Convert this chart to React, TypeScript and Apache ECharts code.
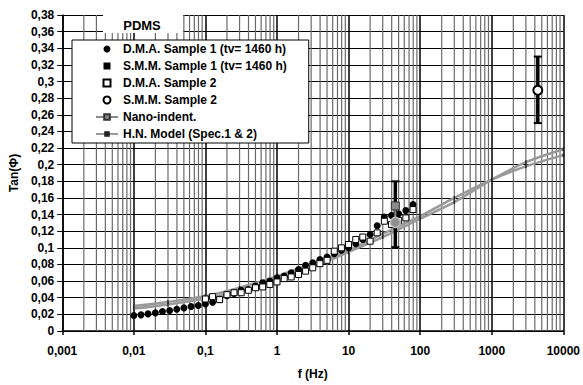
import React, { useEffect, useRef } from 'react';
import * as echarts from 'echarts';

const FONT = 'Arial, "Liberation Sans", Helvetica, sans-serif';

// ---- data ----
const dmaFreq1 = [0.01, 0.0126, 0.0158, 0.02, 0.0251, 0.0316, 0.0398, 0.0501, 0.0631, 0.0794,
  0.1, 0.126, 0.158, 0.2, 0.251, 0.316, 0.398, 0.501, 0.631, 0.794,
  1, 1.26, 1.58, 2, 2.51, 3.16, 3.98, 5.01, 6.31, 7.94,
  10, 12.6, 15.8, 20, 25.1, 31.6, 39.8, 50.1, 63.1, 79.4];
const dmaTan1 = [0.0187, 0.0194, 0.0206, 0.0218, 0.0235, 0.0247, 0.0262, 0.0278, 0.0294, 0.0306,
  0.0325, 0.0345, 0.038, 0.0425, 0.0452, 0.049, 0.05, 0.054, 0.058, 0.06,
  0.064, 0.066, 0.07, 0.074, 0.079, 0.082, 0.086, 0.089, 0.093, 0.097,
  0.1, 0.105, 0.11, 0.116, 0.1265, 0.137, 0.139, 0.141, 0.145, 0.152];

const dmaFreq2 = [0.1, 0.126, 0.158, 0.2, 0.251, 0.316, 0.398, 0.501, 0.631, 0.794,
  1, 1.26, 1.58, 2, 2.51, 3.16, 3.98, 5.01, 6.31, 7.94,
  10, 12.6, 15.8, 20, 25.1, 31.6, 39.8, 50.1, 63.1, 79.4];
const dmaTan2 = [0.0385, 0.0413, 0.0377, 0.0437, 0.046, 0.046, 0.049, 0.052, 0.053, 0.056,
  0.059, 0.063, 0.065, 0.068, 0.072, 0.076, 0.081, 0.085, 0.096, 0.1,
  0.104, 0.11, 0.113, 0.108, 0.118, 0.132, 0.128, 0.133, 0.136, 0.146];

const smm1Freq = [45];
const smm1Tan = [0.13];
const smm1Low = [0.1008];
const smm1High = [0.18];

const smm2Freq = [4400];
const smm2Tan = [0.2896];
const smm2Low = [0.25];
const smm2High = [0.33];

const nanoFreq = [45, 45];
const nanoTan = [0.1504, 0.1306];

const hnFreq = [0.01, 0.03, 0.1, 0.3, 1, 3, 10, 30, 100, 300, 1000, 3000, 10000];
const hnSpec1 = [0.03, 0.035, 0.042, 0.052, 0.066, 0.081, 0.097, 0.117, 0.138, 0.16, 0.182, 0.198, 0.2115];
const hnSpec2 = [0.027, 0.032, 0.039, 0.048, 0.061, 0.076, 0.095, 0.113, 0.135, 0.155, 0.182, 0.203, 0.2185];

const decades = [0.001, 0.01, 0.1, 1, 10, 100, 1000];
const minorMultipliers = [2, 3, 4, 5, 6, 7, 8, 9];

const legendNames = [
  'D.M.A. Sample 1 (tv= 1460 h)',
  'S.M.M. Sample 1 (tv= 1460 h)',
  'D.M.A. Sample 2',
  'S.M.M. Sample 2',
  'Nano-indent.',
  'H.N. Model (Spec.1 & 2)',
];

const X_MIN = 0.001;
const X_MAX = 10000;
const Y_MIN = 0;
const Y_MAX = 0.38;

const SQUARE = 'path://M0,0L10,0L10,10L0,10Z';

const zip = (a: number[], b: number[]) => a.map((v, i) => [v, b[i]]);

function buildOption() {
  const minorTicks: number[][] = [];
  decades.forEach((d) => minorMultipliers.forEach((m) => minorTicks.push([d * m, 0])));

  const errData = [
    ...smm1Freq.map((f, i) => [f, smm1Low[i], smm1High[i]]),
    ...smm2Freq.map((f, i) => [f, smm2Low[i], smm2High[i]]),
  ];

  const labelStyle = { fontFamily: FONT, fontWeight: 'bold' as const, fontSize: 12, color: '#000' };

  return {
    animation: false,
    backgroundColor: '#fff',
    grid: { left: 62, right: 19, top: 15, bottom: 51, containLabel: false },
    legend: {
      data: legendNames,
      orient: 'vertical',
      left: 72,
      top: 40,
      padding: [3, 22, 3, 23],
      itemWidth: 22,
      itemHeight: 7,
      itemGap: 5,
      backgroundColor: '#fff',
      borderColor: '#000',
      borderWidth: 1,
      borderRadius: 0,
      textStyle: { ...labelStyle },
    },
    xAxis: {
      type: 'log',
      logBase: 10,
      min: X_MIN,
      max: X_MAX,
      interval: 1,
      name: 'f (Hz)',
      nameLocation: 'middle',
      nameGap: 37,
      nameTextStyle: { ...labelStyle },
      axisLine: { show: true, lineStyle: { color: '#000', width: 1.5 } },
      axisTick: { show: true, inside: false, length: 4, lineStyle: { color: '#000', width: 1.5 } },
      axisLabel: {
        ...labelStyle,
        margin: 14,
        formatter: (v: number) => String(parseFloat(v.toPrecision(4))).replace('.', ','),
      },
      splitLine: { show: true, lineStyle: { color: '#000', width: 1.5 } },
    },
    yAxis: {
      type: 'value',
      min: Y_MIN,
      max: Y_MAX,
      interval: 0.02,
      name: 'Tan(Φ)',
      nameLocation: 'middle',
      nameGap: 40,
      nameTextStyle: { ...labelStyle },
      axisLine: { show: true, lineStyle: { color: '#000', width: 1.5 } },
      axisTick: { show: true, inside: false, length: 5, lineStyle: { color: '#000', width: 1 } },
      axisLabel: {
        ...labelStyle,
        margin: 8,
        formatter: (v: number) => String(Math.round(v * 100) / 100).replace('.', ','),
      },
      splitLine: { show: true, lineStyle: { color: '#000', width: 1 } },
    },
    graphic: [
      { type: 'rect', left: 103, top: 15, shape: { width: 80, height: 18 }, style: { fill: '#fff' }, z: 100 },
      {
        type: 'text',
        x: 142,
        y: 25,
        style: { text: 'PDMS', fontFamily: FONT, fontWeight: 'bold', fontSize: 13, fill: '#000', align: 'center', verticalAlign: 'middle' },
        z: 101,
      },
    ],
    series: [
      {
        name: 'minor-grid',
        type: 'custom',
        silent: true,
        z: 1,
        encode: { x: 0, y: 1 },
        data: minorTicks,
        renderItem: (params: any, api: any) => {
          const v = api.value(0);
          const a = api.coord([v, Y_MIN]);
          const b = api.coord([v, Y_MAX]);
          return {
            type: 'line',
            shape: { x1: a[0], y1: a[1], x2: b[0], y2: b[1] },
            style: { stroke: '#6a6a6a', lineWidth: 1.2 },
          };
        },
      },
      {
        name: 'H.N. Model (Spec.1 & 2)',
        type: 'line',
        z: 3,
        smooth: 0.3,
        data: zip(hnFreq, hnSpec1),
        symbol: 'rect',
        symbolSize: [1.5, 4],
        showSymbol: true,
        itemStyle: { color: '#222' },
        lineStyle: { color: '#999', width: 2.5 },
      },
      {
        name: 'H.N. Model (Spec.1 & 2)',
        type: 'line',
        z: 3,
        smooth: 0.3,
        data: zip(hnFreq, hnSpec2),
        symbol: 'rect',
        symbolSize: [1.5, 4],
        showSymbol: true,
        itemStyle: { color: '#222' },
        lineStyle: { color: '#999', width: 2.5 },
      },
      {
        name: 'D.M.A. Sample 1 (tv= 1460 h)',
        type: 'scatter',
        z: 4,
        symbol: 'circle',
        symbolSize: 7,
        itemStyle: { color: '#000', opacity: 1 },
        data: zip(dmaFreq1, dmaTan1),
      },
      {
        name: 'D.M.A. Sample 2',
        type: 'scatter',
        z: 5,
        symbol: SQUARE,
        symbolKeepAspect: true,
        symbolSize: 6,
        itemStyle: { color: '#fff', borderColor: '#000', borderWidth: 1, opacity: 1 },
        data: zip(dmaFreq2, dmaTan2),
      },
      {
        name: 'error-bars',
        type: 'custom',
        z: 6,
        silent: true,
        encode: { x: 0, y: [1, 2] },
        data: errData,
        renderItem: (params: any, api: any) => {
          const x = api.value(0);
          const lo = api.coord([x, api.value(1)]);
          const hi = api.coord([x, api.value(2)]);
          const w = 4;
          return {
            type: 'group',
            children: [
              { type: 'line', shape: { x1: lo[0], y1: lo[1], x2: hi[0], y2: hi[1] }, style: { stroke: '#000', lineWidth: 3.5 } },
              { type: 'line', shape: { x1: lo[0] - w, y1: lo[1], x2: lo[0] + w, y2: lo[1] }, style: { stroke: '#000', lineWidth: 2 } },
              { type: 'line', shape: { x1: hi[0] - w, y1: hi[1], x2: hi[0] + w, y2: hi[1] }, style: { stroke: '#000', lineWidth: 2 } },
            ],
          };
        },
      },
      {
        name: 'S.M.M. Sample 1 (tv= 1460 h)',
        type: 'scatter',
        z: 7,
        symbol: SQUARE,
        symbolKeepAspect: true,
        symbolSize: 7,
        itemStyle: { color: '#000', opacity: 1 },
        data: zip(smm1Freq, smm1Tan),
      },
      {
        name: 'Nano-indent.',
        type: 'line',
        z: 8,
        symbol: 'rect',
        symbolSize: 8,
        showSymbol: true,
        itemStyle: { color: '#8a8a8a', borderColor: '#333', borderWidth: 1, opacity: 1 },
        lineStyle: { color: '#8a8a8a', width: 2 },
        data: nanoFreq.map((f, i) =>
          i === 1
            ? { value: [f, nanoTan[i]], symbol: 'circle', symbolSize: 10, itemStyle: { color: '#8f8f8f', borderColor: '#bdbdbd', borderWidth: 1.5 } }
            : { value: [f, nanoTan[i]] }
        ),
      },
      {
        name: 'S.M.M. Sample 2',
        type: 'scatter',
        z: 9,
        symbol: 'circle',
        symbolSize: 9,
        itemStyle: { color: '#fff', borderColor: '#000', borderWidth: 2, opacity: 1 },
        data: zip(smm2Freq, smm2Tan),
      },
    ],
  };
}

export default function App() {
  const ref = useRef<HTMLDivElement>(null);
  useEffect(() => {
    if (!ref.current) return;
    const chart = echarts.init(ref.current, null, { renderer: 'svg' });
    chart.setOption(buildOption() as any);
    return () => chart.dispose();
  }, []);
  return (
    <div
      ref={ref}
      style={{ position: 'fixed', left: 0, top: 0, width: 583, height: 385, background: '#fff' }}
    />
  );
}
